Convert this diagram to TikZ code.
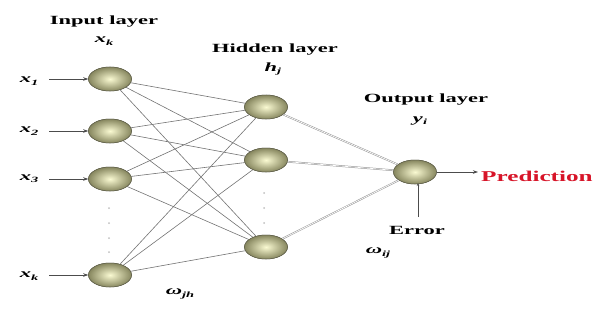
\documentclass[tikz,border=0pt]{standalone}
\usepackage{fontspec}
\usepackage{graphicx}
\setmainfont{Liberation Serif}
\usetikzlibrary{shapes.geometric,arrows.meta}
\newcommand{\sx}[1]{\scalebox{1.8}[1]{#1}}
\newcommand{\vsub}[2]{\textbf{\textit{#1}}\raisebox{-0.4ex}{\fontsize{8}{9}\selectfont\textbf{\textit{#2}}}}
\definecolor{nodeout}{RGB}{135,135,95}
\definecolor{nodein}{RGB}{250,250,210}
\definecolor{nodeline}{RGB}{95,95,75}
\definecolor{predred}{RGB}{215,20,40}
\tikzset{
  neuron/.style={ellipse, minimum width=43pt, minimum height=24pt, inner sep=0pt,
    draw=nodeline, line width=0.5pt, shading=radial, inner color=nodein, outer color=nodeout},
  lbl/.style={inner sep=0pt, font=\fontsize{12.5}{14}\selectfont\bfseries},
  wire/.style={draw=gray!90!black, line width=0.6pt},
  dwire/.style={draw=gray!85, double=white, double distance=0.7pt, line width=0.5pt},
  inarrow/.style={draw=gray!60!black, line width=0.6pt, -{Stealth[length=5pt,width=3.5pt]}},
  dotsty/.style={fill=gray!50, circle, inner sep=0pt, minimum size=2pt}
}
\begin{document}
\begin{tikzpicture}[x=1pt,y=-1pt]
\useasboundingbox (0,0) rectangle (602,329);
% input neurons
\node[neuron] (i1) at (110,79) {};
\node[neuron] (i2) at (110,131) {};
\node[neuron] (i3) at (110,179) {};
\node[neuron] (ik) at (110,275) {};
% hidden neurons
\node[neuron] (h1) at (266,107) {};
\node[neuron] (h2) at (266,160) {};
\node[neuron] (h3) at (266,247) {};
% output
\node[neuron] (o) at (415,172) {};
% connections input -> hidden
\foreach \a in {i1,i2,i3,ik}{
  \foreach \b in {h1,h2,h3}{
    \draw[wire] (\a) -- (\b);
  }
}
% hidden -> output
\foreach \b in {h1,h2,h3}{
  \draw[dwire] (\b) -- (o);
}
% redraw nodes on top
\node[neuron] at (110,79) {};
\node[neuron] at (110,131) {};
\node[neuron] at (110,179) {};
\node[neuron] at (110,275) {};
\node[neuron] at (266,107) {};
\node[neuron] at (266,160) {};
\node[neuron] at (266,247) {};
\node[neuron] at (415,172) {};
% input labels and arrows
\node[lbl] (x1) at (29,81) {\sx{\vsub{x}{1}}};
\node[lbl] (x2) at (29,131) {\sx{\vsub{x}{2}}};
\node[lbl] (x3) at (29,179) {\sx{\vsub{x}{3}}};
\node[lbl] (xk) at (29,276) {\sx{\vsub{x}{k}}};
\coordinate (a1) at (49,79);
\coordinate (a2) at (49,131);
\coordinate (a3) at (49,179);
\coordinate (ak) at (49,275);
\draw[inarrow] (a1) -- (i1);
\draw[inarrow] (a2) -- (i2);
\draw[inarrow] (a3) -- (i3);
\draw[inarrow] (ak) -- (ik);
% dots
\foreach \y in {208,223,238,252}{ \node[dotsty] at (109,\y) {}; }
\foreach \y in {193,208,223}{ \node[dotsty] at (264,\y) {}; }
% layer titles
\node[lbl] (tin) at (104,22) {\sx{Input layer}};
\node[lbl] (txk) at (104,41) {\sx{\vsub{x}{k}}};
\node[lbl] (thid) at (275,50) {\sx{Hidden layer}};
\node[lbl] (thj) at (273,69) {\sx{\vsub{h}{j}}};
\node[lbl] (tout) at (426,100) {\sx{Output layer}};
\node[lbl] (tyi) at (420,121) {\sx{\vsub{y}{i}}};
% weights
\node[lbl] (wjh) at (180,294) {\sx{\vsub{ω}{jh}}};
\node[lbl] (wij) at (378,253) {\sx{\vsub{ω}{ij}}};
% prediction
\node[lbl, anchor=west, text=predred, font=\fontsize{15}{17}\selectfont\bfseries] (pred) at (481,176) {\scalebox{1.68}[1]{Prediction}};
\coordinate (pa) at (478,172);
\draw[inarrow] (o) -- (pa);
% error
\node[lbl] (err) at (417,230) {\sx{Error}};
\coordinate (ea) at (418,217);
\coordinate (eb) at (418,183);
\draw[draw=gray!60!black, line width=0.6pt, -{Stealth[length=3pt,width=2.5pt]}] (ea) -- (eb);
\end{tikzpicture}
\end{document}
